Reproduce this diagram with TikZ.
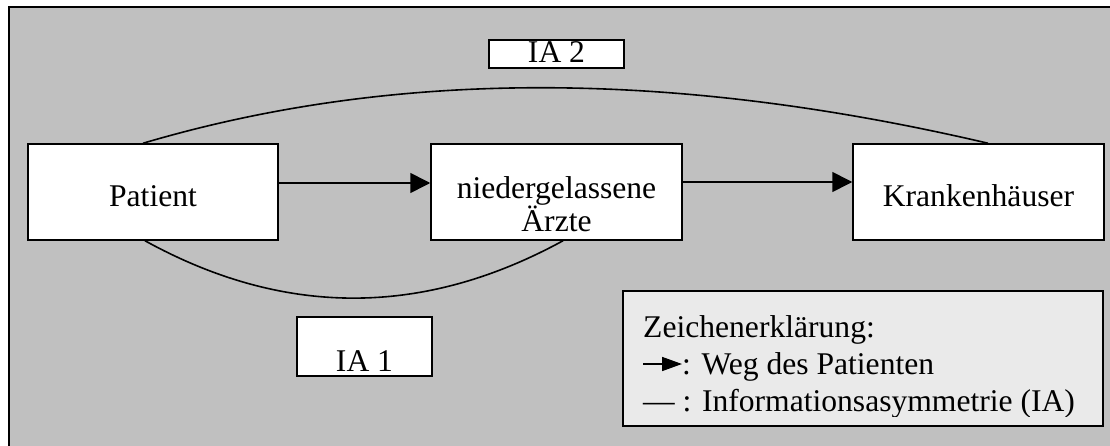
\documentclass[tikz,border=0pt]{standalone}
\usepackage{fontspec}
\setmainfont{Liberation Serif}
\usetikzlibrary{arrows.meta}
\definecolor{bggray}{HTML}{C0C0C0}
\definecolor{leggray}{HTML}{EAEAEA}
\begin{document}
\begin{tikzpicture}[x=1pt,y=-1pt,
  txt/.style={font=\fontsize{31.6}{37}\selectfont, inner sep=0pt},
  box/.style={draw=black, line width=1.5pt, fill=white, inner sep=0pt},
  flow/.style={line width=1.6pt, -{Triangle[length=20pt,width=20pt]}},
  ia/.style={line width=1.6pt}]
\useasboundingbox (0,0) rectangle (1110,446);
\fill[white] (0,0) rectangle (1110,446);
\fill[bggray] (9,7.5) rectangle (1110,446);
\draw[line width=2pt] (9,446) -- (9,7.5) -- (1110,7.5);

% boxes
\node[box, minimum width=250pt, minimum height=96pt] (patient) at (153,192) {};
\node[box, minimum width=251pt, minimum height=96pt] (aerzte) at (556.5,192) {};
\node[box, minimum width=251pt, minimum height=96pt] (kh) at (978.5,192) {};
\node[box, minimum width=135pt, minimum height=28pt] (ia2) at (556.5,54) {};
\node[box, minimum width=135pt, minimum height=59pt] (ia1) at (364.5,346.5) {};
\node[box, fill=leggray, minimum width=480pt, minimum height=135pt] (legend) at (863,358.5) {};

% texts
\node[txt, anchor=base] (tpatient) at (153,207) {Patient};
\node[txt, anchor=base] (taerzte1) at (556.5,199) {niedergelassene};
\node[txt, anchor=base] (taerzte2) at (556.5,232) {Ärzte};
\node[txt, anchor=base] (tkh) at (978.5,207) {Krankenhäuser};
\node[txt, anchor=base] (tia2) at (556.5,63) {IA 2};
\node[txt, anchor=base] (tia1) at (364.5,371) {IA 1};

% flow arrows
\draw[flow] ([yshift=9pt]patient.east) -- ([yshift=9pt]aerzte.west);
\draw[flow] ([yshift=10pt]aerzte.east) -- ([yshift=10pt]kh.west);

% information asymmetry curves
\draw[ia] ([xshift=-10pt]patient.north) .. controls +(257,-76) and +(-308,-72) .. ([xshift=9.5pt]kh.north);
\draw[ia] ([xshift=-8pt]patient.south) .. controls +(138,76) and +(-141,77) .. ([xshift=6.5pt]aerzte.south);

% legend
\begin{scope}
\clip (623,291) rectangle (1103,416);
\node[txt, anchor=base west] (leg1) at (643,337) {Zeichenerklärung:};
\coordinate (la) at (643,364);
\coordinate (lb) at (682,364);
\draw[line width=1.6pt, -{Triangle[length=20pt,width=14pt]}] (la) -- (lb);
\node[txt, anchor=base west] (leg2) at (682,374) {: Weg des Patienten};
\node[txt, anchor=base west] (leg3) at (643,411) {— : Informationsasymmetrie (IA)};
\end{scope}
\end{tikzpicture}
\end{document}
